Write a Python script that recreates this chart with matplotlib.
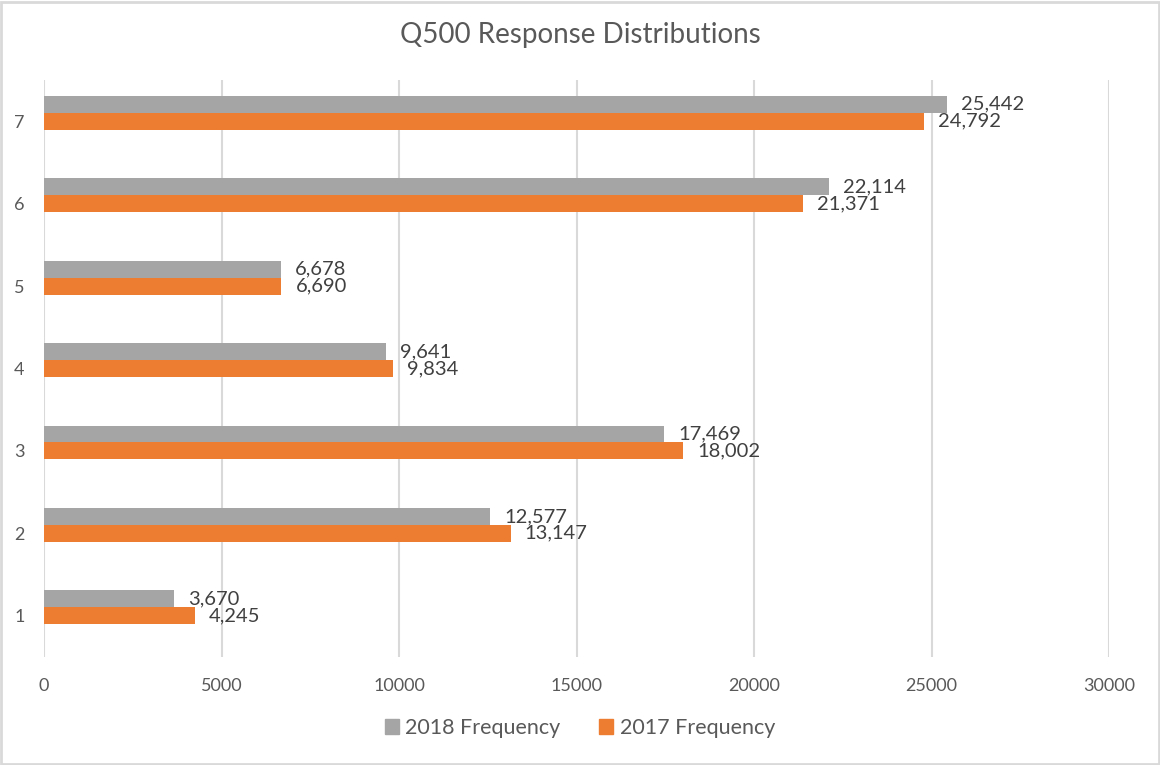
import numpy as np
import matplotlib.pyplot as plt
from matplotlib.patches import Patch, Rectangle

# response codes and counts per year
responses = [1, 2, 3, 4, 5, 6, 7]
freq_2018 = [3670, 12577, 17469, 9641, 6678, 22114, 25442]
freq_2017 = [4245, 13147, 18002, 9834, 6690, 21371, 24792]
x_ticks = [0, 5000, 10000, 15000, 20000, 25000, 30000]

GRAY = '#A5A5A5'
ORANGE = '#ED7D31'
TEXT = '#595959'
LINE = '#D9D9D9'

plt.rcParams['font.family'] = ['Lato', 'DejaVu Sans']

fig = plt.figure(figsize=(11.6, 7.65), dpi=100)
ax = fig.add_axes([44 / 1160, 1 - 657 / 765, (1109 - 44) / 1160, (657 - 80) / 765])

y = np.array(responses, dtype=float)
h = 0.205
ax.barh(y + h, freq_2018, height=h, color=GRAY, zorder=3)
ax.barh(y, freq_2017, height=h, color=ORANGE, zorder=3)

# value labels just right of each bar
for yy, v in zip(y + h, freq_2018):
    ax.annotate(f'{v:,}', (v, yy), xytext=(14, 0), textcoords='offset pixels',
                ha='left', va='center', fontsize=14.5, color='#404040', zorder=4)
for yy, v in zip(y, freq_2017):
    ax.annotate(f'{v:,}', (v, yy), xytext=(14, 0), textcoords='offset pixels',
                ha='left', va='center', fontsize=14.5, color='#404040', zorder=4)

ax.set_xlim(0, 30000)
ax.set_ylim(0.5, 7.5)
ax.set_xticks(x_ticks)
ax.set_xticklabels([str(t) for t in x_ticks])
ax.set_yticks(responses)
ax.tick_params(axis='both', length=0, labelsize=13, labelcolor=TEXT)
ax.tick_params(axis='x', pad=15)
ax.tick_params(axis='y', pad=14)
ax.xaxis.grid(True, color=LINE, linewidth=1.5, zorder=0)
ax.set_axisbelow(True)
for s in ax.spines.values():
    s.set_visible(False)

fig.text(0.5, 1 - 35 / 765, 'Q500 Response Distributions', ha='center', va='center',
         fontsize=20, color=TEXT)

handles = [Patch(color=GRAY, label='2018 Frequency'),
           Patch(color=ORANGE, label='2017 Frequency')]
fig.legend(handles=handles, loc='center', bbox_to_anchor=(0.5, 1 - 728 / 765), ncol=2,
           frameon=False, fontsize=15.5, labelcolor=TEXT, handlelength=0.65,
           handleheight=0.65, handletextpad=0.3, columnspacing=1.8)

# thin frame around the whole chart
fig.patches.append(Rectangle((0.001, 0.001), 0.998, 0.997, transform=fig.transFigure,
                             fill=False, edgecolor=LINE, linewidth=2))

fig.savefig('out.png', dpi=100)
